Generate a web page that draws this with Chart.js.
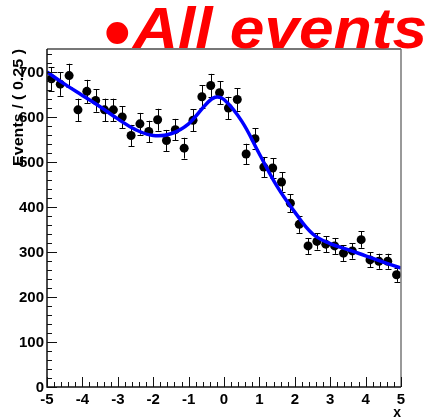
<!DOCTYPE html>
<html>
<head>
<meta charset="utf-8">
<script src="https://cdn.jsdelivr.net/npm/chart.js@4/dist/chart.umd.min.js"></script>
<style>
  html, body { margin: 0; padding: 0; background: #fff; }
  #plot { display: block; }
</style>
</head>
<body>
<canvas id="plot" width="433" height="418"></canvas>
<script>
// binned counts, bin width 0.25 on [-5, 5]
const binCenters = [
  -4.875, -4.625, -4.375, -4.125, -3.875, -3.625, -3.375, -3.125, -2.875, -2.625,
  -2.375, -2.125, -1.875, -1.625, -1.375, -1.125, -0.875, -0.625, -0.375, -0.125,
   0.125,  0.375,  0.625,  0.875,  1.125,  1.375,  1.625,  1.875,  2.125,  2.375,
   2.625,  2.875,  3.125,  3.375,  3.625,  3.875,  4.125,  4.375,  4.625,  4.875
];
const counts = [
  684, 672, 691, 615, 656, 636, 615, 615, 599, 558,
  584, 567, 593, 547, 571, 530, 592, 644, 669, 653,
  619, 638, 517, 551, 488, 486, 455, 408, 361, 313,
  323, 317, 313, 297, 302, 327, 282, 279, 279, 249
];
// Poisson errors on each bin
const countErr = counts.map(Math.sqrt);

// fitted pdf curve
const fitX = [-5, -4.5, -4, -3.5, -3, -2.5, -2, -1.5, -1, -0.5, -0.25, 0, 0.5, 1, 1.5, 2, 2.5, 3, 3.5, 4, 4.5, 5];
const fitY = [699, 672, 647, 622, 595, 571, 558, 562, 584, 628, 643, 638, 590, 517, 445, 388, 340, 318, 305, 291, 277, 264];

const xTicks = [-5, -4, -3, -2, -1, 0, 1, 2, 3, 4, 5];
const yTicks = [0, 100, 200, 300, 400, 500, 600, 700];

const titleText = 'All events';
const bulletText = '\u2022';
const yTitle = 'Events / ( 0.25 )';
const xTitle = 'x';

const FONT = '"Liberation Sans", Arial, Helvetica, sans-serif';

const rootFrame = {
  id: 'rootFrame',
  beforeDatasetsDraw(chart) {
    const ctx = chart.ctx;
    const xs = chart.scales.x, ys = chart.scales.y;
    // error bars under the markers
    ctx.save();
    ctx.strokeStyle = '#000';
    ctx.lineWidth = 1;
    binCenters.forEach((bx, i) => {
      const px = Math.round(xs.getPixelForValue(bx)) + 0.5;
      const lo = ys.getPixelForValue(counts[i] - countErr[i]);
      const hi = ys.getPixelForValue(counts[i] + countErr[i]);
      ctx.beginPath();
      ctx.moveTo(px, lo); ctx.lineTo(px, hi);
      ctx.moveTo(px - 3, Math.round(lo) + 0.5); ctx.lineTo(px + 3, Math.round(lo) + 0.5);
      ctx.moveTo(px - 3, Math.round(hi) + 0.5); ctx.lineTo(px + 3, Math.round(hi) + 0.5);
      ctx.stroke();
    });
    ctx.restore();
  },
  afterDraw(chart) {
    const ctx = chart.ctx;
    const a = chart.chartArea;
    const xs = chart.scales.x, ys = chart.scales.y;
    ctx.save();

    // frame: grey top/right, black axes
    ctx.strokeStyle = '#777';
    ctx.lineWidth = 2;
    ctx.beginPath();
    ctx.moveTo(a.left, a.top); ctx.lineTo(a.right, a.top);
    ctx.stroke();
    ctx.lineWidth = 1.5;
    ctx.beginPath();
    ctx.moveTo(a.right, a.top); ctx.lineTo(a.right, a.bottom);
    ctx.stroke();
    ctx.strokeStyle = '#111';
    ctx.lineWidth = 1.5;
    ctx.beginPath();
    ctx.moveTo(a.left, a.top); ctx.lineTo(a.left, a.bottom); ctx.lineTo(a.right, a.bottom);
    ctx.stroke();

    // ticks drawn inside the frame
    ctx.lineWidth = 1;
    ctx.beginPath();
    for (let v = 0; v <= 740; v += 20) {
      const py = Math.round(ys.getPixelForValue(v)) + 0.5;
      const len = v % 100 === 0 ? 10 : 5;
      ctx.moveTo(a.left, py); ctx.lineTo(a.left + len, py);
    }
    for (let k = 0; k <= 50; k++) {
      const v = -5 + k * 0.2;
      const px = Math.round(xs.getPixelForValue(v)) + 0.5;
      const len = k % 5 === 0 ? 10 : 5;
      ctx.moveTo(px, a.bottom); ctx.lineTo(px, a.bottom - len);
    }
    ctx.stroke();

    // tick labels
    ctx.fillStyle = '#000';
    ctx.font = 'bold 15px ' + FONT;
    ctx.textAlign = 'right';
    ctx.textBaseline = 'middle';
    yTicks.forEach(v => ctx.fillText(String(v), a.left - 3, ys.getPixelForValue(v) + 1));
    ctx.textAlign = 'center';
    ctx.textBaseline = 'top';
    xTicks.forEach(v => ctx.fillText(String(v), xs.getPixelForValue(v), a.bottom + 5));

    // axis titles
    ctx.font = 'bold 14px ' + FONT;
    ctx.textAlign = 'right';
    ctx.textBaseline = 'alphabetic';
    ctx.fillText(xTitle, a.right, 417);
    ctx.save();
    ctx.translate(23, a.top);
    ctx.rotate(-Math.PI / 2);
    const yw = ctx.measureText(yTitle).width;
    ctx.scale(117 / yw, 1);
    ctx.textAlign = 'left';
    ctx.fillText(yTitle, -yw, 0);
    ctx.restore();

    // red title
    ctx.fillStyle = '#ff0000';
    ctx.textAlign = 'left';
    ctx.textBaseline = 'alphabetic';
    ctx.font = 'bold 76px ' + FONT;
    ctx.fillText(bulletText, 104, 58);
    ctx.font = 'italic bold 57px ' + FONT;
    const tw = ctx.measureText(titleText).width;
    ctx.save();
    ctx.translate(133, 48);
    ctx.scale(294 / tw, 1);
    ctx.fillText(titleText, 0, 0);
    ctx.restore();

    ctx.restore();
  }
};

new Chart(document.getElementById('plot'), {
  type: 'scatter',
  data: {
    datasets: [
      {
        type: 'line',
        data: fitX.map((x, i) => ({ x: x, y: fitY[i] })),
        borderColor: '#0000ff',
        borderWidth: 3.5,
        pointRadius: 0,
        tension: 0.4,
        fill: false,
        order: 0
      },
      {
        data: binCenters.map((x, i) => ({ x: x, y: counts[i] })),
        backgroundColor: '#000',
        borderColor: '#000',
        pointRadius: 4.5,
        borderWidth: 0,
        order: 1
      }
    ]
  },
  options: {
    responsive: false,
    devicePixelRatio: 1,
    animation: false,
    layout: { padding: { left: 47, top: 49, right: 32, bottom: 31 } },
    plugins: { legend: { display: false }, tooltip: { enabled: false } },
    scales: {
      x: { type: 'linear', min: -5, max: 5, display: false },
      y: { type: 'linear', min: 0, max: 750, display: false }
    }
  },
  plugins: [rootFrame]
});
</script>
</body>
</html>
